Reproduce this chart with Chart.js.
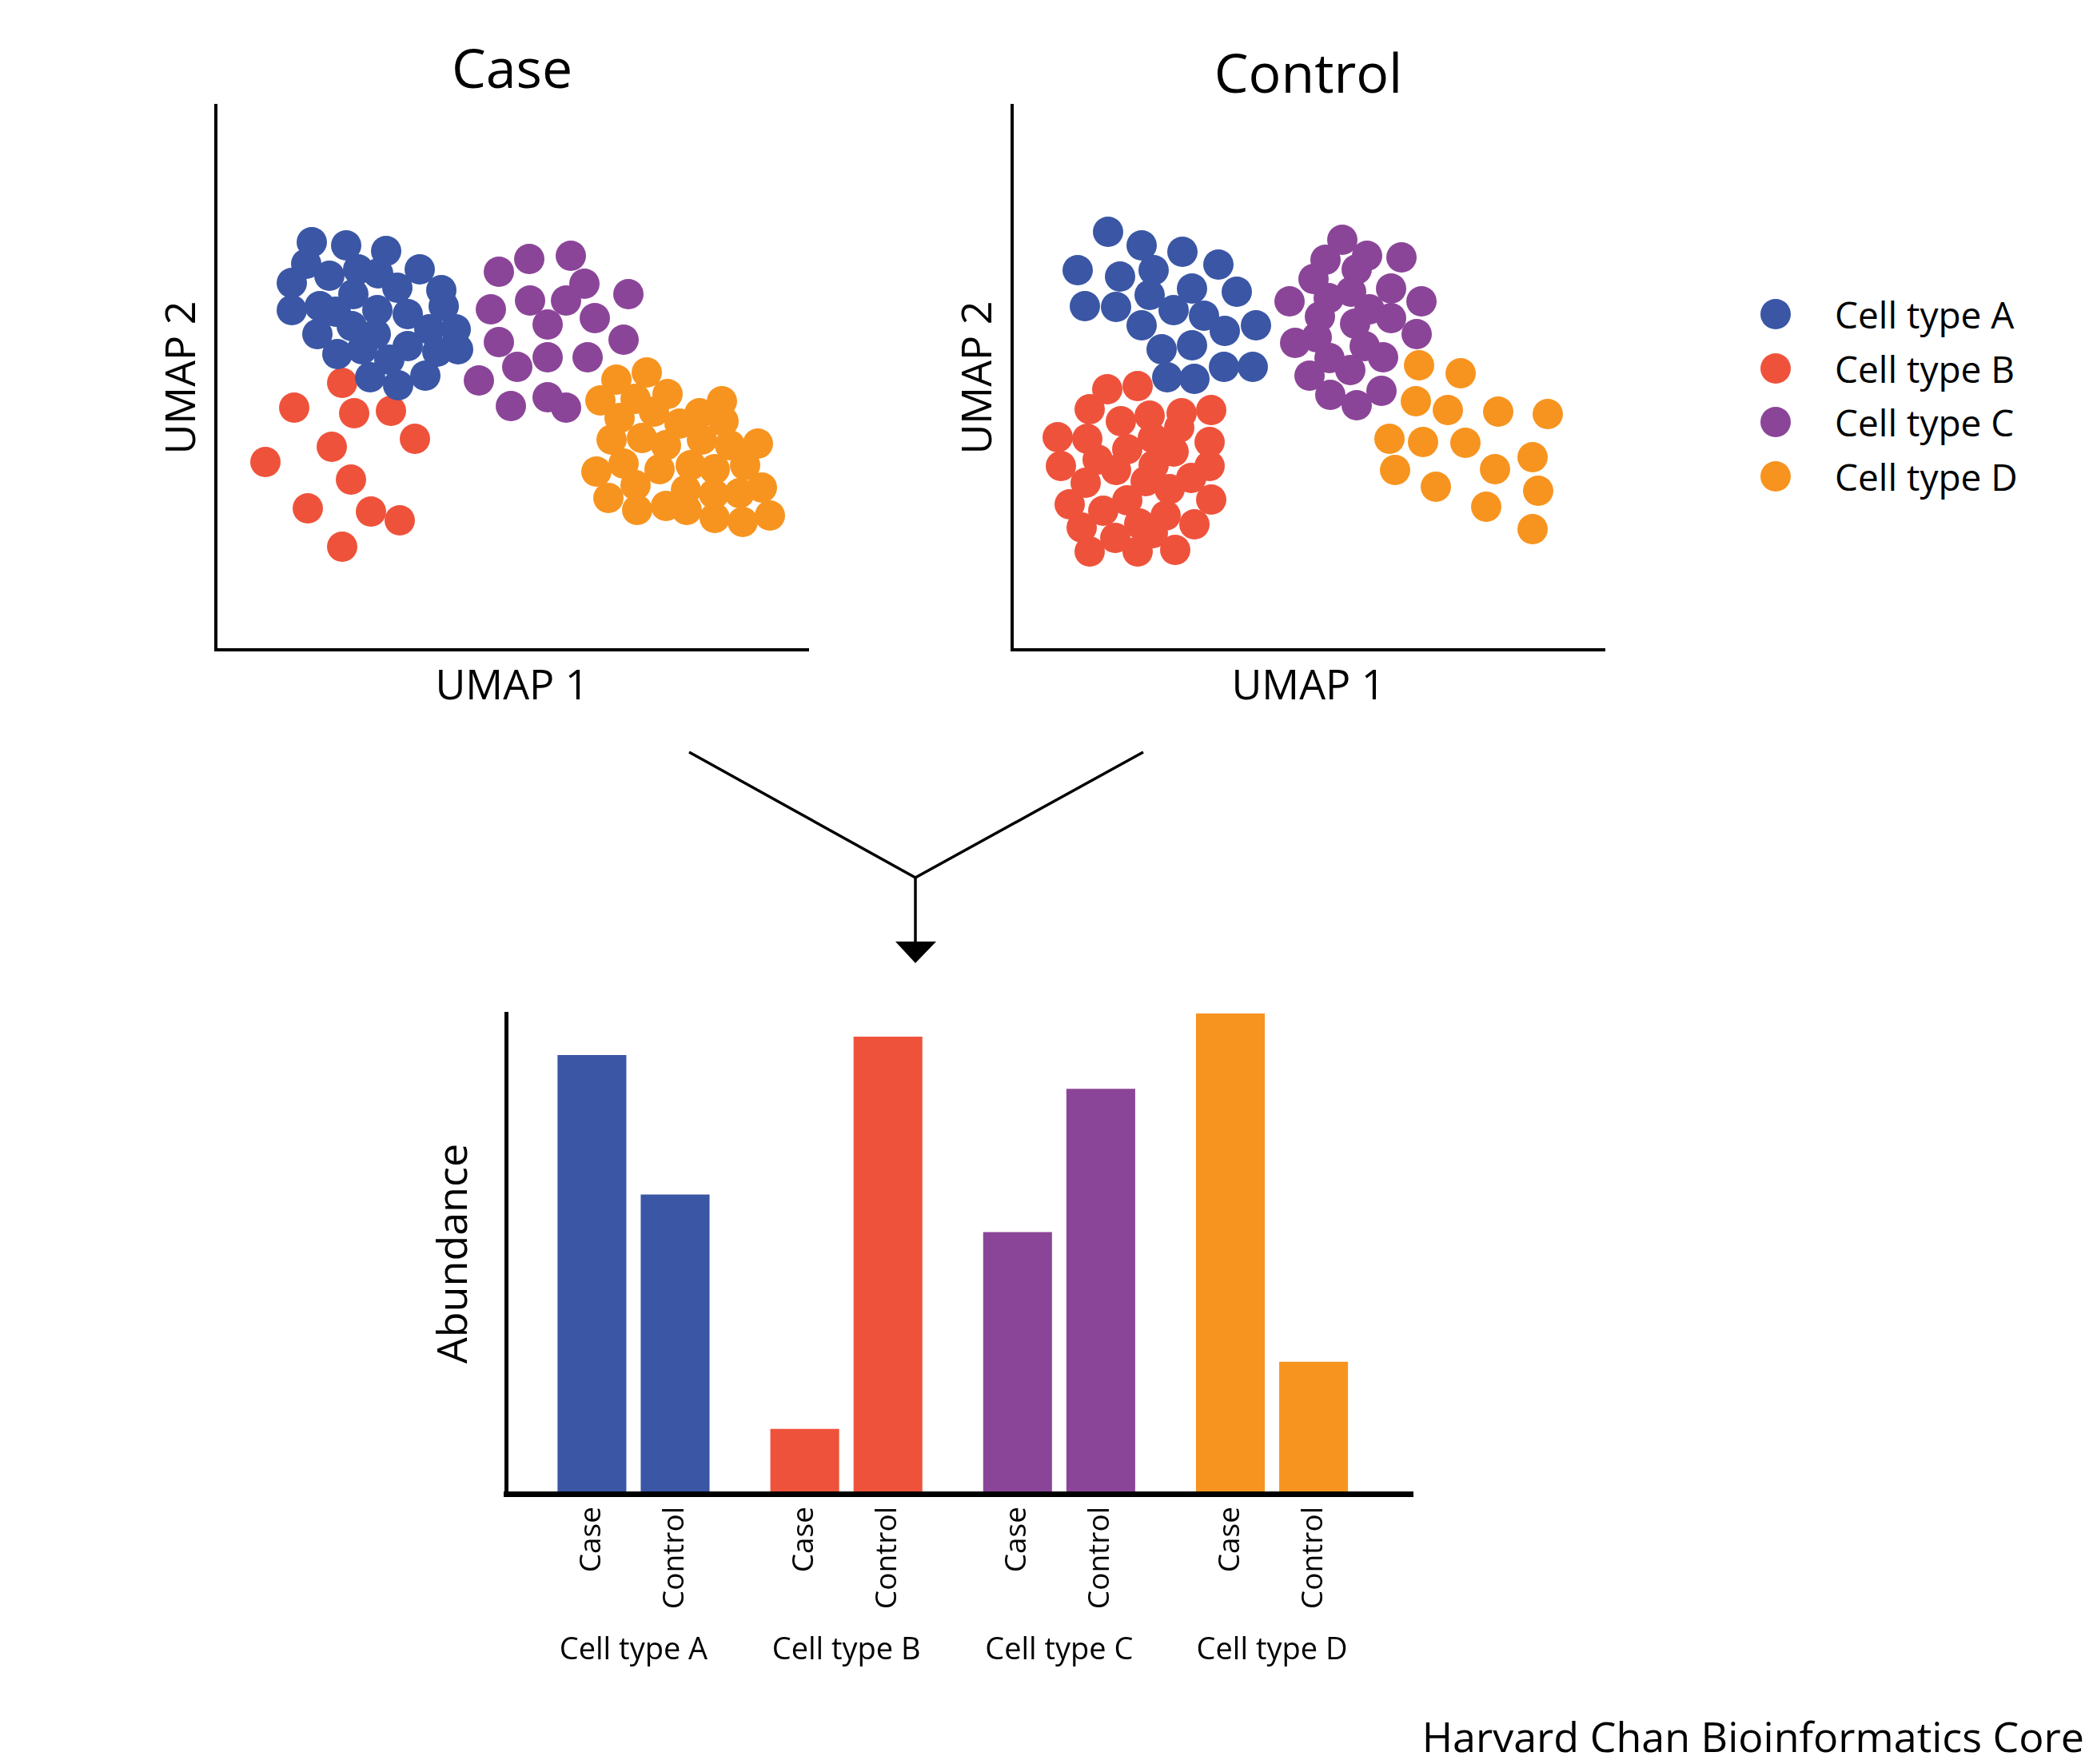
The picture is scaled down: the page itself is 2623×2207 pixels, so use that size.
<!DOCTYPE html>
<html>
<head>
<meta charset="utf-8">
<script src="https://cdn.jsdelivr.net/npm/chart.js@4.4.1/dist/chart.umd.min.js"></script>
<style>
  html, body { margin: 0; padding: 0; background: #fff; }
  #page { position: relative; width: 2623px; height: 2207px; overflow: hidden; font-family: "Open Sans", sans-serif; color: #000; }
  canvas { position: absolute; }
  #legend { position: absolute; left: 2202px; top: 359px; }
  .row { display: flex; align-items: center; height: 67.7px; font-size: 46px; line-height: 1; }
  .dot { width: 38px; height: 38px; border-radius: 50%; }
  .row span { margin-left: 55px; }
  #footer { position: absolute; right: 16px; top: 2146px; font-size: 52px; line-height: 1; white-space: nowrap; }
  svg { position: absolute; left: 0; top: 0; }
</style>
</head>
<body>
<div id="page">
  <svg width="2623" height="2207">
    <polyline points="862,941 1145,1098 1430,941" fill="none" stroke="#000" stroke-width="3.5"/>
    <line x1="1145" y1="1098" x2="1145" y2="1180" stroke="#000" stroke-width="3.5"/>
    <polygon points="1120,1178 1171,1178 1145,1205" fill="#000"/>
  </svg>
  <canvas id="caseChart" width="950" height="900" style="left:120px; top:0px;"></canvas>
  <canvas id="controlChart" width="950" height="900" style="left:1116px; top:0px;"></canvas>
  <canvas id="barChart" width="1500" height="900" style="left:450px; top:1230px;"></canvas>
  <div id="legend"></div>
  <div id="footer">Harvard Chan Bioinformatics Core</div>
</div>
<script>
var cellTypes = ['Cell type A', 'Cell type B', 'Cell type C', 'Cell type D'];
var colors = ['#3a56a5', '#ef523b', '#8b4598', '#f7941f'];

// UMAP coordinates, Case sample
var caseA = [[12.0,51.0],[16.3,50.6],[21.3,49.9],[11.3,48.3],[14.2,46.8],[9.5,45.9],[17.8,47.6],[20.3,47.1],
  [25.5,47.6],[22.7,45.3],[28.2,45.0],[17.2,44.5],[9.5,42.5],[13.0,43.0],[15.0,42.3],[20.2,42.5],[24.0,42.0],
  [28.5,43.0],[12.7,39.5],[17.0,40.5],[20.0,39.5],[26.7,40.1],[30.0,40.1],[24.0,38.0],[27.7,37.3],[30.3,37.6],
  [15.2,37.0],[18.3,37.6],[21.7,36.3],[19.3,34.1],[22.8,33.1],[26.2,34.3]];
var caseB = [[15.8,33.4],[9.8,30.3],[17.3,29.6],[21.9,29.9],[24.9,26.4],[14.5,25.4],[6.2,23.5],[16.9,21.3],
  [11.5,17.7],[19.4,17.3],[23.0,16.2],[15.8,12.9]];
var caseC = [[35.4,47.3],[39.2,48.9],[44.4,49.3],[46.1,45.8],[51.6,44.5],[34.4,42.6],[39.3,43.7],[43.8,43.7],
  [47.4,41.5],[41.5,40.7],[35.4,38.5],[41.5,36.6],[46.5,36.6],[51.0,38.8],[37.7,35.4],[32.9,33.7],[36.9,30.5],
  [41.5,31.6],[43.8,30.3]];
var caseD = [[50.1,33.8],[53.9,34.7],[48.1,31.2],[52.5,31.4],[56.5,32.0],[50.5,29.0],[54.8,29.8],[58.0,28.3],
  [60.5,29.6],[63.3,31.1],[63.5,28.6],[49.5,26.3],[53.3,26.5],[56.3,25.6],[60.8,26.3],[64.3,25.6],[67.8,25.8],
  [47.6,22.3],[51.0,23.3],[55.5,22.6],[59.4,23.1],[62.4,22.6],[66.2,23.1],[52.5,20.6],[58.8,20.0],[62.3,19.5],
  [65.5,19.6],[68.3,20.3],[49.1,19.0],[52.7,17.5],[56.3,18.0],[58.9,17.5],[62.4,16.5],[65.9,16.0],[69.3,16.8]];

// UMAP coordinates, Control sample
var controlA = [[12.0,52.3],[16.2,50.6],[21.3,49.8],[25.8,48.2],[8.2,47.5],[13.5,46.7],[17.7,47.5],[22.5,45.2],
  [28.1,44.8],[9.1,43.0],[13.0,42.9],[17.2,44.4],[20.2,42.5],[24.0,41.8],[26.6,39.9],[30.5,40.6],[16.2,40.6],
  [18.7,37.6],[22.5,38.1],[26.5,35.4],[30.1,35.4],[19.4,34.1],[22.8,33.9]];
var controlB = [[11.9,32.6],[15.7,33.0],[9.7,30.1],[13.6,28.6],[17.2,29.3],[21.2,29.6],[24.9,30.0],[5.7,26.6],
  [9.4,26.4],[17.6,26.5],[20.9,27.8],[24.7,26.0],[14.4,25.1],[20.2,24.8],[6.1,23.0],[10.7,23.8],[13.0,22.5],
  [17.7,23.1],[24.7,23.0],[9.2,20.9],[16.7,21.1],[19.7,20.1],[22.4,21.5],[7.2,18.2],[11.4,17.4],[14.4,18.7],
  [19.2,16.8],[24.9,18.8],[8.7,15.3],[12.9,14.0],[15.9,15.8],[22.8,15.7],[9.7,12.3],[15.7,12.3],[20.4,12.5],
  [17.6,14.6]];
var controlC = [[41.3,51.3],[44.4,49.3],[48.7,49.1],[39.2,48.8],[43.1,47.6],[37.7,46.4],[47.4,45.2],[34.7,43.6],
  [39.6,44.0],[42.4,44.8],[51.2,43.6],[44.7,42.6],[38.5,41.7],[42.9,40.8],[47.4,41.5],[50.6,39.5],[35.4,38.4],
  [38.1,39.1],[44.1,38.0],[46.4,36.6],[39.7,36.5],[42.3,35.0],[37.2,34.3],[39.8,31.9],[46.2,32.4],[43.1,30.6]];
var controlD = [[50.9,35.6],[56.1,34.6],[50.5,31.1],[54.5,30.0],[60.8,29.8],[67.0,29.5],[47.2,26.4],[51.4,26.0],
  [56.7,25.9],[47.9,22.5],[60.4,22.6],[65.1,24.1],[53.0,20.4],[65.8,19.9],[59.3,17.9],[65.1,15.1]];

// abundance per cell type
var caseAbundance = [548, 81, 327, 600];
var controlAbundance = [374, 571, 506, 165];

Chart.defaults.font.family = '"Open Sans", sans-serif';
Chart.defaults.color = '#000';

function umapChart(id, title, titleTop, groups) {
  return new Chart(document.getElementById(id), {
    type: 'scatter',
    data: {
      datasets: groups.map(function (pts, i) {
        return {
          label: cellTypes[i],
          data: pts.map(function (p) { return { x: p[0], y: p[1] }; }),
          backgroundColor: colors[i],
          borderWidth: 0,
          pointRadius: 19,
          pointHoverRadius: 19
        };
      })
    },
    options: {
      responsive: false,
      animation: false,
      events: [],
      layout: { autoPadding: false, padding: { left: 0, right: 59, top: 0, bottom: 0 } },
      plugins: {
        legend: { display: false },
        tooltip: { enabled: false },
        title: {
          display: true,
          text: title,
          fullSize: false,
          color: '#000',
          font: { size: 68, weight: 'normal', lineHeight: 1 },
          padding: { top: titleTop, bottom: 64 - titleTop }
        }
      },
      scales: {
        x: {
          min: 0, max: 74.1,
          grid: { display: false, drawTicks: false },
          ticks: { display: false },
          border: { color: '#000', width: 4 },
          title: { display: true, text: 'UMAP 1', color: '#000', font: { size: 52 }, padding: { top: 0, bottom: 9 } },
          afterFit: function (s) { s.height = 87; }
        },
        y: {
          min: 0, max: 68.1,
          grid: { display: false, drawTicks: false },
          ticks: { display: false },
          border: { color: '#000', width: 4 },
          title: { display: true, text: 'UMAP 2', color: '#000', font: { size: 52 }, padding: { top: 78, bottom: 0 } },
          afterFit: function (s) { s.width = 150; }
        }
      }
    }
  });
}

umapChart('caseChart', 'Case', 57, [caseA, caseB, caseC, caseD]);
umapChart('controlChart', 'Control', 63, [controlA, controlB, controlC, controlD]);

// rotated Case / Control under every bar
var barLabels = {
  id: 'barLabels',
  afterDraw: function (chart) {
    var ctx = chart.ctx;
    ctx.save();
    ctx.font = '37px "Open Sans"';
    ctx.fillStyle = '#000';
    ctx.textAlign = 'right';
    ctx.textBaseline = 'middle';
    chart.data.datasets.forEach(function (ds, i) {
      chart.getDatasetMeta(i).data.forEach(function (bar) {
        ctx.save();
        ctx.translate(bar.x, chart.chartArea.bottom + 16);
        ctx.rotate(-Math.PI / 2);
        ctx.fillText(ds.label, 0, 0);
        ctx.restore();
      });
    });
    ctx.restore();
  }
};

new Chart(document.getElementById('barChart'), {
  type: 'bar',
  data: {
    datasets: [
      {
        label: 'Case',
        data: caseAbundance.map(function (v, i) { return { x: i, y: v }; }),
        backgroundColor: colors
      },
      {
        label: 'Control',
        data: controlAbundance.map(function (v, i) { return { x: i, y: v }; }),
        backgroundColor: colors
      }
    ]
  },
  options: {
    responsive: false,
    animation: false,
    events: [],
    categoryPercentage: 0.782,
    barPercentage: 0.827,
    layout: { autoPadding: false, padding: { left: 0, right: 183, top: 38, bottom: 0 } },
    plugins: {
      legend: { display: false },
      tooltip: { enabled: false }
    },
    scales: {
      x: {
        type: 'linear',
        offset: false,
        min: -0.599, max: 3.661,
        grid: { display: false, drawTicks: false, offset: false },
        border: { color: '#000', width: 7, z: 1 },
        afterBuildTicks: function (s) { s.ticks = cellTypes.map(function (c, i) { return { value: i }; }); },
        ticks: {
          autoSkip: false, maxRotation: 0, minRotation: 0, padding: 173,
          font: { size: 38 }, color: '#000',
          callback: function (v) { return cellTypes[v]; }
        },
        afterFit: function (s) { s.height = 261; }
      },
      y: {
        min: 0, max: 600,
        grid: { display: false, drawTicks: false },
        ticks: { display: false },
        border: { color: '#000', width: 5 },
        title: { display: true, text: 'Abundance', color: '#000', font: { size: 52 }, padding: { top: 88, bottom: 0 } },
        afterFit: function (s) { s.width = 183; }
      }
    }
  },
  plugins: [barLabels]
});

var legend = document.getElementById('legend');
cellTypes.forEach(function (name, i) {
  var row = document.createElement('div');
  row.className = 'row';
  var dot = document.createElement('div');
  dot.className = 'dot';
  dot.style.background = colors[i];
  var txt = document.createElement('span');
  txt.textContent = name;
  row.appendChild(dot);
  row.appendChild(txt);
  legend.appendChild(row);
});
</script>
</body>
</html>
